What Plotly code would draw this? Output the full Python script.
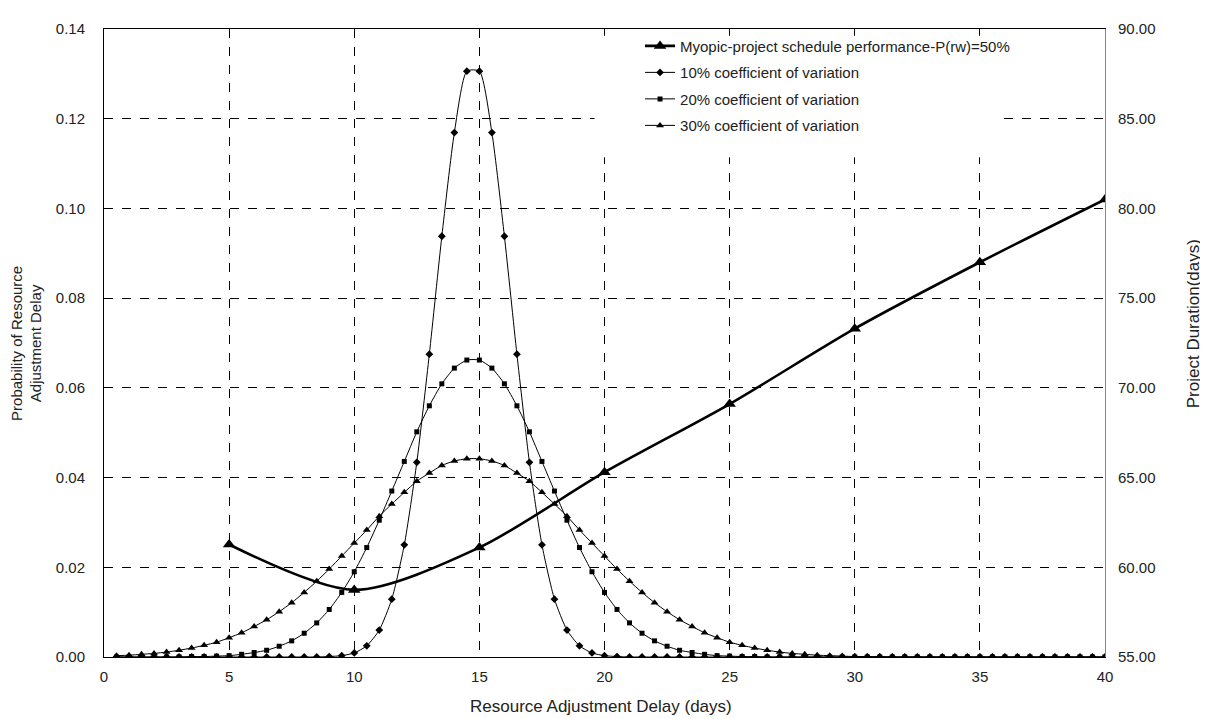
import plotly.graph_objects as go

# ---------------- data ----------------
delay_days = [0.5, 1.0, 1.5, 2.0, 2.5, 3.0, 3.5, 4.0, 4.5, 5.0,
              5.5, 6.0, 6.5, 7.0, 7.5, 8.0, 8.5, 9.0, 9.5, 10.0,
              10.5, 11.0, 11.5, 12.0, 12.5, 13.0, 13.5, 14.0, 14.5, 15.0,
              15.5, 16.0, 16.5, 17.0, 17.5, 18.0, 18.5, 19.0, 19.5, 20.0,
              20.5, 21.0, 21.5, 22.0, 22.5, 23.0, 23.5, 24.0, 24.5, 25.0,
              25.5, 26.0, 26.5, 27.0, 27.5, 28.0, 28.5, 29.0, 29.5, 30.0,
              30.5, 31.0, 31.5, 32.0, 32.5, 33.0, 33.5, 34.0, 34.5, 35.0,
              35.5, 36.0, 36.5, 37.0, 37.5, 38.0, 38.5, 39.0, 39.5, 40.0]

cv10 = [0, 0, 0, 0, 0, 0, 0, 0, 0, 0,
        0, 0, 0, 0, 0, 0, 0, 0.0001, 0.0003, 0.0009,
        0.0025, 0.0060, 0.0129, 0.0250, 0.0434, 0.0675, 0.0938, 0.1169, 0.1306, 0.1306,
        0.1169, 0.0938, 0.0675, 0.0434, 0.0250, 0.0129, 0.0060, 0.0025, 0.0009, 0.0003,
        0.0001, 0, 0, 0, 0, 0, 0, 0, 0, 0,
        0, 0, 0, 0, 0, 0, 0, 0, 0, 0,
        0, 0, 0, 0, 0, 0, 0, 0, 0, 0,
        0, 0, 0, 0, 0, 0, 0, 0, 0, 0]

cv20 = [0, 0, 0, 0, 0, 0, 0.0001, 0.0001, 0.0002, 0.0003,
        0.0006, 0.0010, 0.0015, 0.0024, 0.0036, 0.0053, 0.0076, 0.0106, 0.0144, 0.0190,
        0.0244, 0.0305, 0.0370, 0.0436, 0.0502, 0.0560, 0.0609, 0.0644, 0.0662, 0.0662,
        0.0644, 0.0609, 0.0560, 0.0502, 0.0436, 0.0370, 0.0305, 0.0244, 0.0190, 0.0144,
        0.0106, 0.0076, 0.0053, 0.0036, 0.0024, 0.0015, 0.0010, 0.0006, 0.0003, 0.0002,
        0.0001, 0.0001, 0, 0, 0, 0, 0, 0, 0, 0,
        0, 0, 0, 0, 0, 0, 0, 0, 0, 0,
        0, 0, 0, 0, 0, 0, 0, 0, 0, 0]

cv30 = [0.0003, 0.0004, 0.0006, 0.0008, 0.0011, 0.0015, 0.0020, 0.0026, 0.0033, 0.0043,
        0.0054, 0.0068, 0.0083, 0.0101, 0.0121, 0.0144, 0.0169, 0.0196, 0.0225, 0.0254,
        0.0283, 0.0314, 0.0341, 0.0367, 0.0392, 0.0410, 0.0427, 0.0437, 0.0442, 0.0442,
        0.0437, 0.0427, 0.0410, 0.0392, 0.0367, 0.0341, 0.0314, 0.0283, 0.0254, 0.0225,
        0.0196, 0.0169, 0.0144, 0.0121, 0.0101, 0.0083, 0.0068, 0.0054, 0.0043, 0.0033,
        0.0026, 0.0020, 0.0015, 0.0011, 0.0008, 0.0006, 0.0004, 0.0003, 0.0002, 0.0001,
        0.0001, 0.0001, 0, 0, 0, 0, 0, 0, 0, 0,
        0, 0, 0, 0, 0, 0, 0, 0, 0, 0]

myopic_days = [5, 10, 15, 20, 25, 30, 35, 40]
myopic_duration = [61.27, 58.74, 61.1, 65.3, 69.1, 73.3, 77.0, 80.5]

series_names = ["Myopic-project schedule performance-P(rw)=50%",
                "10% coefficient of variation",
                "20% coefficient of variation",
                "30% coefficient of variation"]

x_ticks = [0, 5, 10, 15, 20, 25, 30, 35, 40]

# ---------------- figure ----------------
FONT = "Arial, Liberation Sans, sans-serif"
fig = go.Figure()

fig.add_trace(go.Scatter(
    x=myopic_days, y=myopic_duration, yaxis="y2", name=series_names[0],
    mode="lines+markers", legendgroup="a",
    line=dict(color="black", width=2.6, shape="spline", smoothing=0.8),
    marker=dict(symbol="triangle-up", size=11, color="black")))

for name, vals, sym, sz, grp in [(series_names[1], cv10, "diamond", 6, "b"),
                                 (series_names[2], cv20, "square", 5, "c"),
                                 (series_names[3], cv30, "triangle-up", 7, "d")]:
    fig.add_trace(go.Scatter(
        x=delay_days, y=vals, name=name, mode="lines+markers", legendgroup=grp,
        line=dict(color="black", width=1, shape="spline", smoothing=0.6),
        marker=dict(symbol=sym, size=sz, color="black")))

fig.update_layout(
    width=1200, height=711,
    margin=dict(l=96, r=103, t=12, b=62),
    paper_bgcolor="white", plot_bgcolor="white",
    font=dict(family=FONT, size=15, color="#222"),
    showlegend=True,
    legend=dict(x=0.5355, y=0.999, xanchor="left", yanchor="top",
                bgcolor="rgba(255,255,255,0)", borderwidth=0,
                font=dict(family=FONT, size=15, color="#222"),
                tracegroupgap=4, itemwidth=30),
    shapes=[dict(type="rect", xref="x", yref="y", x0=19.6, x1=35.8, y0=0.1114, y1=0.1385,
                 fillcolor="white", line=dict(width=0), layer="between")],
    xaxis=dict(range=[0, 40], tickvals=x_ticks, ticktext=[str(v) for v in x_ticks],
               showgrid=True, gridcolor="black", griddash="dash", gridwidth=1,
               showline=True, linecolor="black", linewidth=1, mirror=True,
               zeroline=False, ticks="", ticklabelstandoff=6,
               tickfont=dict(size=15, color="#222")),
    yaxis=dict(range=[0, 0.14], dtick=0.02, tickformat=".2f",
               showgrid=True, gridcolor="black", griddash="dash", gridwidth=1,
               showline=True, linecolor="black", linewidth=1,
               zeroline=False, ticks="", ticklabelstandoff=15,
               tickfont=dict(size=15, color="#222")),
    yaxis2=dict(range=[55, 90], dtick=5, tickformat=".2f", overlaying="y", side="right",
                showgrid=False, showline=True, linecolor="#888", linewidth=1,
                zeroline=False, ticks="", ticklabelstandoff=9,
                tickfont=dict(size=15, color="#222")),
    annotations=[
        dict(text="Probability of Resource<br>Adjustment Delay", xref="paper", yref="paper",
             x=-0.078, y=0.5, xanchor="center", yanchor="middle", textangle=-90,
             showarrow=False, font=dict(family=FONT, size=15, color="#222")),
        dict(text="Project Duration(days)", xref="paper", yref="paper",
             x=1.088, y=0.53, xanchor="center", yanchor="middle", textangle=-90,
             showarrow=False, font=dict(family=FONT, size=17, color="#222")),
        dict(text="Resource Adjustment Delay (days)", xref="paper", yref="paper",
             x=0.497, y=-0.0785, xanchor="center", yanchor="middle", showarrow=False,
             font=dict(family=FONT, size=17, color="#222")),
    ],
)

fig.write_html("out.html")
